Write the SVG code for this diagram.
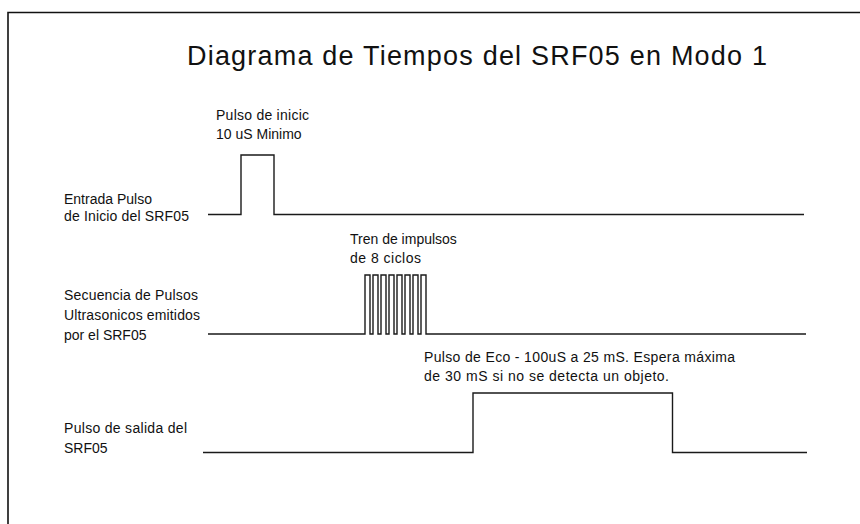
<svg xmlns="http://www.w3.org/2000/svg" width="860" height="524" viewBox="0 0 860 524">
<style>
  .lbl { font-family: "Liberation Sans", Arial, sans-serif; font-size: 14px; fill: #111; }
  .title { font-family: "Liberation Sans", Arial, sans-serif; font-size: 27px; fill: #111; }
  .wave { fill: none; stroke: #1a1a1a; stroke-width: 1.4; }
  .frame { fill: none; stroke: #111; stroke-width: 1.6; }
</style>
<rect x="0" y="0" width="860" height="524" fill="#fff"/>
<path class="frame" d="M8 524 V12.5 H860"/>
<text class="title" x="187" y="64.5" textLength="580" lengthAdjust="spacing">Diagrama de Tiempos del SRF05 en Modo 1</text>

<g id="trigger">
  <text class="lbl" x="64" y="204">Entrada Pulso</text>
  <text class="lbl" x="64" y="221" textLength="125" lengthAdjust="spacing">de Inicio del SRF05</text>
  <text class="lbl" x="216" y="119.5" textLength="93" lengthAdjust="spacing">Pulso de inicic</text>
  <text class="lbl" x="216" y="138.5">10 uS Minimo</text>
</g>
<g id="burst">
  <text class="lbl" x="64" y="299.5" textLength="134" lengthAdjust="spacing">Secuencia de Pulsos</text>
  <text class="lbl" x="64" y="319.5" textLength="136" lengthAdjust="spacing">Ultrasonicos emitidos</text>
  <text class="lbl" x="64" y="339.5">por el SRF05</text>
  <text class="lbl" x="350" y="244">Tren de impulsos</text>
  <text class="lbl" x="350" y="263" textLength="71" lengthAdjust="spacing">de 8 ciclos</text>
</g>
<g id="echo">
  <text class="lbl" x="64" y="433" textLength="123" lengthAdjust="spacing">Pulso de salida del</text>
  <text class="lbl" x="64" y="452.5">SRF05</text>
  <text class="lbl" x="424" y="362" textLength="311" lengthAdjust="spacing">Pulso de Eco - 100uS a 25 mS. Espera máxima</text>
  <text class="lbl" x="424" y="380.5" textLength="245" lengthAdjust="spacing">de 30 mS si no se detecta un objeto.</text>
</g>
<g id="connectors">
  <path class="wave" d="M208 214.5 H241 V155 H274 V214.5 H804"/>
  <path class="wave" d="M208 334 H365 V275 H370 V334 H373 V275 H378 V334 H381 V275 H386 V334 H389 V275 H394 V334 H397 V275 H402 V334 H405 V275 H410 V334 H413 V275 H418 V334 H421 V275 H426 V334 H806"/>
  <path class="wave" d="M203 452.5 H473 V393 H672.5 V452.5 H807"/>
</g>
</svg>
